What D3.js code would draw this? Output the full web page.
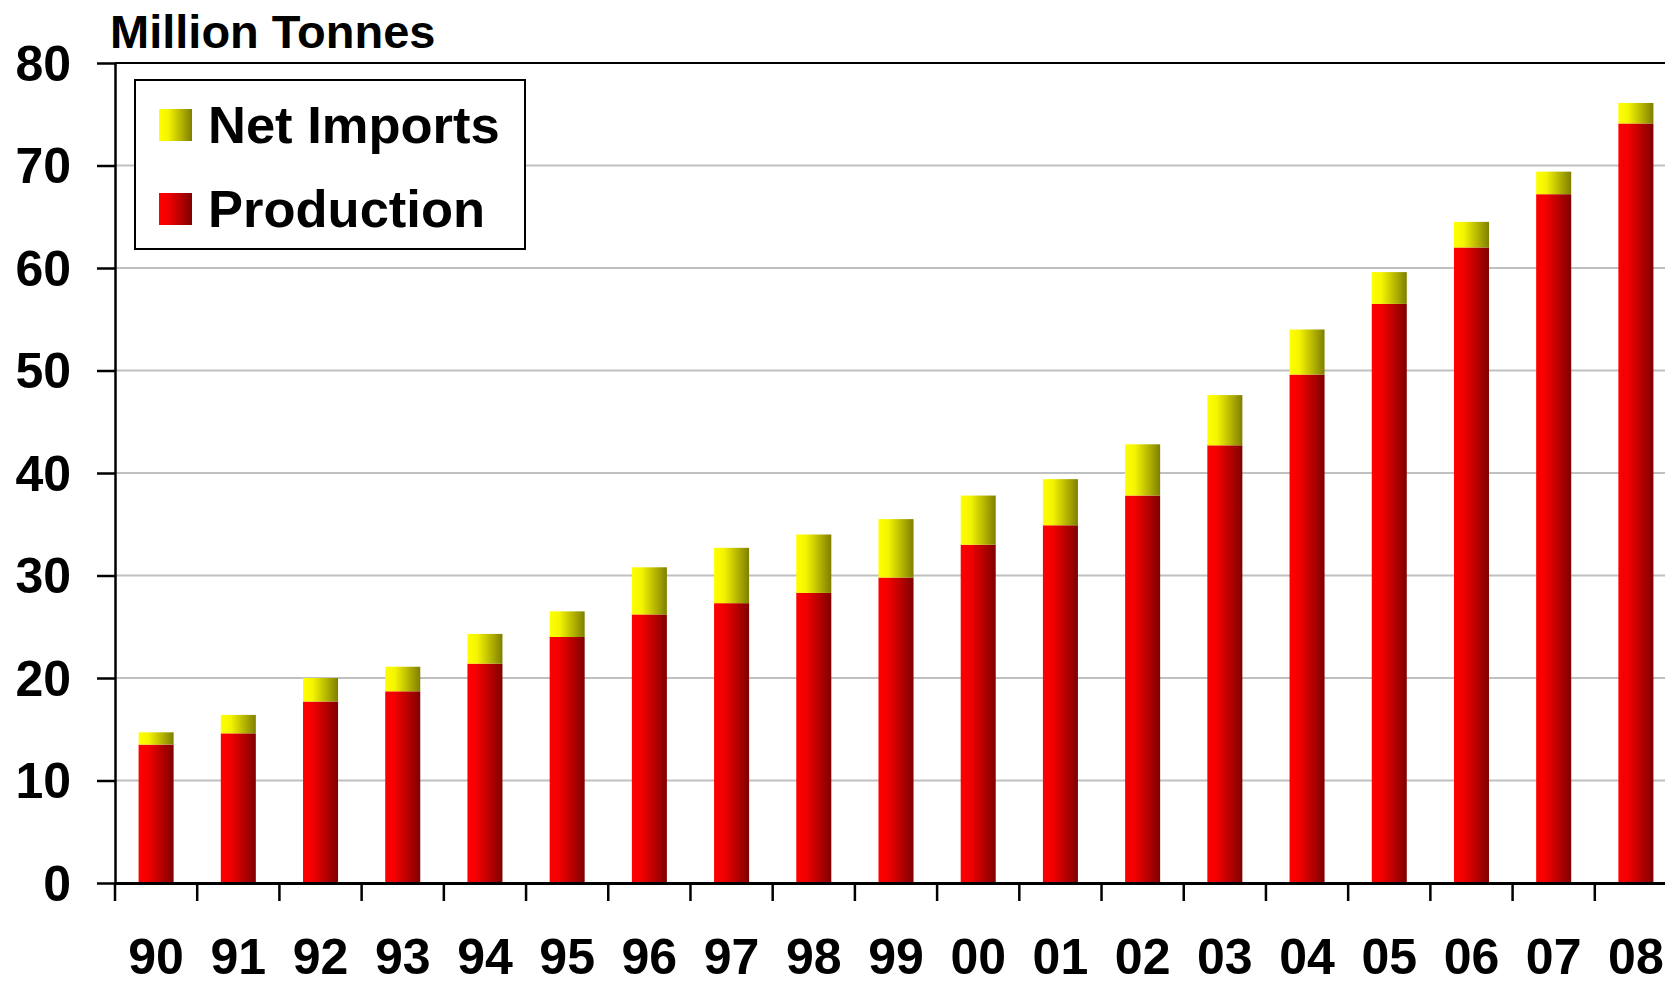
<!DOCTYPE html>
<html>
<head>
<meta charset="utf-8">
<script src="https://cdn.jsdelivr.net/npm/d3@7"></script>
<style>
  html, body { margin: 0; padding: 0; background: #fff; overflow: hidden; }
  svg { display: block; font-family: "Liberation Sans", Arial, Helvetica, sans-serif; font-weight: bold; }
</style>
</head>
<body>
<svg id="chart" width="1665" height="981"></svg>
<script>
const years = ["90","91","92","93","94","95","96","97","98","99","00","01","02","03","04","05","06","07","08"];
const production = [13.5,14.6,17.7,18.7,21.4,24.0,26.2,27.3,28.3,29.8,33.0,34.9,37.8,42.7,49.6,56.5,62.0,67.2,74.1];
const netImports = [1.2,1.8,2.3,2.4,2.9,2.5,4.6,5.4,5.7,5.7,4.8,4.5,5.0,4.9,4.4,3.1,2.5,2.2,2.0];
const yTicks = [0,10,20,30,40,50,60,70,80];
const seriesNames = ["Net Imports","Production"];

const svg = d3.select("#chart");
const mLeft = 115, mRight = 1677, mTop = 63, mBottom = 883;

const x = d3.scaleBand().domain(years).range([mLeft, mRight]).padding(0);
const y = d3.scaleLinear().domain([0, 80]).range([mBottom, mTop]);
const barW = x.bandwidth() * 0.426;

// gradients
const defs = svg.append("defs");
function grad(id, c0, c1, c2) {
  const g = defs.append("linearGradient").attr("id", id)
    .attr("x1", "0%").attr("x2", "100%").attr("y1", "0%").attr("y2", "0%");
  g.append("stop").attr("offset", "0%").attr("stop-color", c0);
  g.append("stop").attr("offset", "28%").attr("stop-color", c1);
  g.append("stop").attr("offset", "100%").attr("stop-color", c2);
}
grad("gRed", "#ff0000", "#f20000", "#7f0000");
grad("gYel", "#ffff00", "#f4f400", "#7f7f00");

// gridlines
svg.append("g").selectAll("line").data(yTicks.filter(d => d > 0 && d < 80)).join("line")
  .attr("x1", mLeft).attr("x2", mRight)
  .attr("y1", d => y(d)).attr("y2", d => y(d))
  .attr("stroke", "#c0c0c0").attr("stroke-width", 2);
// top border
svg.append("line").attr("x1", mLeft).attr("x2", mRight)
  .attr("y1", y(80)).attr("y2", y(80)).attr("stroke", "#000").attr("stroke-width", 2);

// bars
const stack = years.map((yr, i) => ({ yr, p: production[i], n: netImports[i] }));
const gb = svg.append("g");
gb.selectAll("rect.prod").data(stack).join("rect").attr("class", "prod")
  .attr("x", d => x(d.yr) + (x.bandwidth() - barW) / 2)
  .attr("width", barW)
  .attr("y", d => y(d.p))
  .attr("height", d => y(0) - y(d.p))
  .attr("fill", "url(#gRed)");
gb.selectAll("rect.imp").data(stack).join("rect").attr("class", "imp")
  .attr("x", d => x(d.yr) + (x.bandwidth() - barW) / 2)
  .attr("width", barW)
  .attr("y", d => y(d.p + d.n))
  .attr("height", d => y(d.p) - y(d.p + d.n))
  .attr("fill", "url(#gYel)");

// y axis
const yAxis = d3.axisLeft(y).tickValues(yTicks).tickSize(18).tickSizeOuter(0).tickPadding(26);
const gy = svg.append("g").attr("transform", `translate(${mLeft},0)`).call(yAxis);
gy.select(".domain").attr("stroke", "#000").attr("stroke-width", 2.5);
gy.selectAll(".tick line").attr("stroke", "#000").attr("stroke-width", 2.5);
gy.selectAll(".tick text").attr("font-size", 50).attr("font-weight", "bold")
  .attr("fill", "#000").attr("font-family", "'Liberation Sans', Arial, sans-serif").attr("dy", "0.34em");

// x axis (labels at band centres)
const xAxis = d3.axisBottom(x).tickSize(0).tickSizeOuter(0).tickPadding(55);
const gx = svg.append("g").attr("transform", `translate(0,${mBottom})`).call(xAxis);
gx.select(".domain").attr("stroke", "#000").attr("stroke-width", 3);
gx.selectAll(".tick text").attr("font-size", 50).attr("font-weight", "bold")
  .attr("fill", "#000").attr("font-family", "'Liberation Sans', Arial, sans-serif").attr("dy", "0.71em");
// category boundary ticks
svg.append("g").selectAll("line").data(years).join("line")
  .attr("x1", d => x(d)).attr("x2", d => x(d))
  .attr("y1", mBottom).attr("y2", mBottom + 18)
  .attr("stroke", "#000").attr("stroke-width", 2.5);

// title
svg.append("text").attr("x", 110).attr("y", 48)
  .attr("font-size", 47).attr("fill", "#000").text("Million Tonnes");

// legend
const lg = svg.append("g");
lg.append("rect").attr("x", 135).attr("y", 80).attr("width", 390).attr("height", 169)
  .attr("fill", "#fff").attr("stroke", "#000").attr("stroke-width", 2);
const legendFills = ["url(#gYel)", "url(#gRed)"];
const legendY = [109, 193];
seriesNames.forEach((name, i) => {
  lg.append("rect").attr("x", 159).attr("y", legendY[i]).attr("width", 33).attr("height", 32)
    .attr("fill", legendFills[i]);
  lg.append("text").attr("x", 208).attr("y", legendY[i] + 34)
    .attr("font-size", 52.5).attr("fill", "#000").text(name);
});
</script>
</body>
</html>
